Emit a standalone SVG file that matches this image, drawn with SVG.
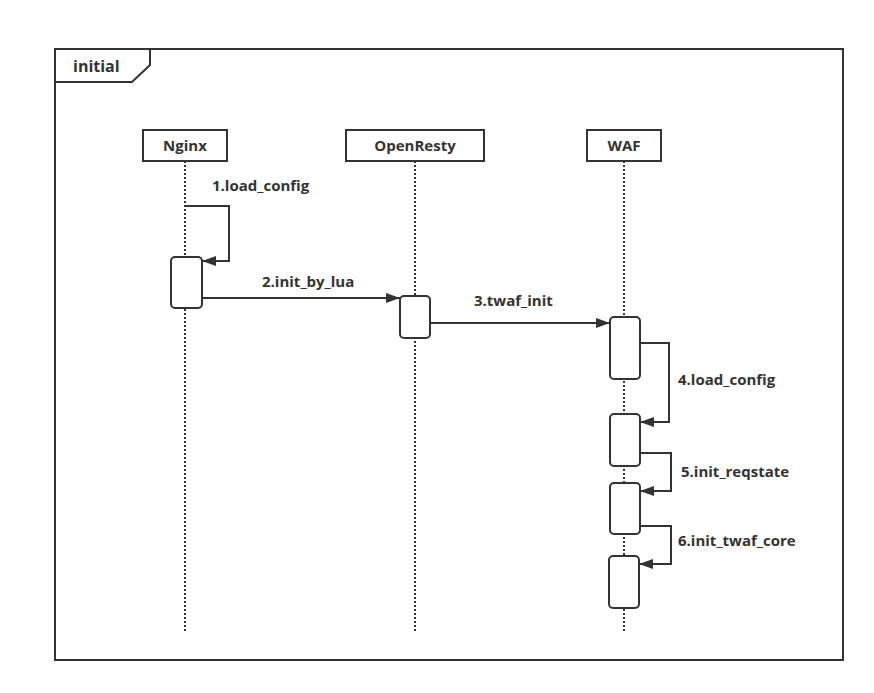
<svg xmlns="http://www.w3.org/2000/svg" width="874" height="693" viewBox="0 0 874 693">
<defs>
<style>
.ln{fill:none;stroke:#333;stroke-width:2}
.life{fill:none;stroke:#333;stroke-width:2;stroke-dasharray:2 2}
.box{fill:#fff;stroke:#333;stroke-width:2}
.act{fill:#fff;stroke:#333;stroke-width:2}
.t{font-family:"Open Sans","Noto Sans",sans-serif;font-weight:bold;font-size:15px;fill:#333}
.tc{text-anchor:middle}
</style>
<marker id="ah" markerWidth="14" markerHeight="10" refX="14" refY="5" orient="auto" markerUnits="userSpaceOnUse">
<path d="M0,0 L14,5 L0,10 Z" fill="#333"/>
</marker>
</defs>
<rect width="874" height="693" fill="#fff"/>
<g id="frame">
<rect x="55" y="49" width="788" height="611" class="ln"/>
<path d="M55,82 L132,82 L150,65 L150,49" class="ln"/>
<text x="73" y="72" class="t" style="font-size:16px">initial</text>
</g>
<g id="lifelines">
<line x1="185" y1="161" x2="185" y2="632" class="life"/>
<line x1="415" y1="161" x2="415" y2="632" class="life"/>
<line x1="624" y1="161" x2="624" y2="632" class="life"/>
</g>
<g id="nginx">
<rect x="143" y="130" width="84" height="31" class="box"/>
<text x="185" y="151" class="t tc">Nginx</text>
<rect x="171" y="257" width="31" height="51" rx="4" class="act"/>
</g>
<g id="openresty">
<rect x="346" y="130" width="138" height="31" class="box"/>
<text x="415" y="151" class="t tc">OpenResty</text>
<rect x="400" y="296" width="30" height="42" rx="4" class="act"/>
</g>
<g id="waf">
<rect x="587" y="130" width="74" height="31" class="box"/>
<text x="624" y="151" class="t tc">WAF</text>
<rect x="610" y="317" width="30" height="62" rx="4" class="act"/>
<rect x="610" y="414" width="30" height="52" rx="4" class="act"/>
<rect x="610" y="483" width="30" height="51" rx="4" class="act"/>
<rect x="609" y="556" width="30" height="52" rx="4" class="act"/>
</g>
<g id="connectors">
<path d="M185,206 L229,206 L229,261 L202,261" class="ln" marker-end="url(#ah)"/>
<text x="212" y="191" class="t">1.load_config</text>
<path d="M202,298 L400,298" class="ln" marker-end="url(#ah)"/>
<text x="262" y="287" class="t">2.init_by_lua</text>
<path d="M430,323 L610,323" class="ln" marker-end="url(#ah)"/>
<text x="474" y="306" class="t">3.twaf_init</text>
<path d="M640,343 L669,343 L669,422 L640,422" class="ln" marker-end="url(#ah)"/>
<text x="678" y="385" class="t">4.load_config</text>
<path d="M640,453 L671,453 L671,491 L640,491" class="ln" marker-end="url(#ah)"/>
<text x="681" y="477" class="t">5.init_reqstate</text>
<path d="M639,526 L671,526 L671,564 L639,564" class="ln" marker-end="url(#ah)"/>
<text x="678" y="546" class="t">6.init_twaf_core</text>
</g>
</svg>
